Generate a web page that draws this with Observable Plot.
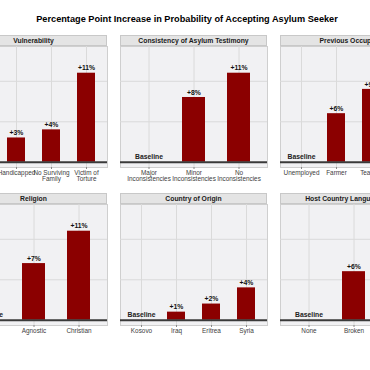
<!DOCTYPE html>
<html><head><meta charset="utf-8">
<script src="https://cdn.jsdelivr.net/npm/d3@7"></script>
<script src="https://cdn.jsdelivr.net/npm/@observablehq/plot@0.6"></script>
<style>
body{margin:0;background:#fff;}
#fig{position:relative;width:370px;height:370px;overflow:hidden;font-family:"Liberation Sans",Arial,Helvetica,sans-serif;}
.title{position:absolute;left:0;width:374px;top:14px;text-align:center;font-weight:bold;font-size:9.2px;color:#000;white-space:nowrap;}
.strip{position:absolute;height:11px;background:#e4e4e4;border:1px solid #c8c8c8;box-sizing:border-box;font-weight:bold;font-size:6.8px;text-align:center;line-height:9px;color:#1a1a1a;white-space:nowrap;overflow:visible;}
.panel{position:absolute;}
</style></head>
<body>
<div id="fig"><div class="title">Percentage Point Increase in Probability of Accepting Asylum Seeker</div></div>
<script>
const facetTitles = ["Vulnerability","Consistency of Asylum Testimony","Previous Occupation","Religion","Country of Origin","Host Country Language Skills"];
const vulnerabilityLevels = ["Not\nVulnerable","Handicapped","No Surviving\nFamily","Victim of\nTorture"];
const vulnerabilityValues = [0,3,4,11];
const consistencyLevels = ["Major\nInconsistencies","Minor\nInconsistencies","No\nInconsistencies"];
const consistencyValues = [0,8,11];
const occupationLevels = ["Unemployed","Farmer","Teacher","Doctor"];
const occupationValues = [0,6,9,13];
const religionLevels = ["Muslim","Agnostic","Christian"];
const religionValues = [0,7,11];
const countryLevels = ["Kosovo","Iraq","Eritrea","Syria"];
const countryValues = [0,1,2,4];
const languageLevels = ["None","Broken","Fluent"];
const languageValues = [0,6,12];
const yGridTicks = [5,10];

const panels = [
  [vulnerabilityLevels, vulnerabilityValues],
  [consistencyLevels, consistencyValues],
  [occupationLevels, occupationValues],
  [religionLevels, religionValues],
  [countryLevels, countryValues],
  [languageLevels, languageValues]
];

const colX = [-40, 120, 280];
const rowTop = [46, 204];
const panelW = 147, plotH = 121, bottomM = 30;
const fig = document.getElementById("fig");

panels.forEach(([levels, values], i) => {
  const col = i % 3, row = Math.floor(i / 3);
  const data = levels.map((l, j) => ({level: l, value: values[j]}));
  const chart = Plot.plot({
    width: panelW, height: plotH + bottomM,
    marginLeft: 0, marginRight: 0, marginTop: 0, marginBottom: bottomM,
    style: {overflow: "visible", background: "transparent", fontFamily: '"Liberation Sans",Arial,sans-serif', fontSize: "6.4px"},
    x: {domain: levels, paddingInner: 0.5, paddingOuter: 0.35, label: null},
    y: {domain: [-0.65, 14.3], axis: null},
    marks: [
      Plot.frame({fill: "#f1f1f3", stroke: "#cfcfcf"}),
      Plot.gridX({stroke: "#dadada", strokeOpacity: 1}),
      Plot.gridY(yGridTicks, {stroke: "#dadada", strokeOpacity: 1}),
      Plot.barY(data.filter(d => d.value > 0), {x: "level", y: "value", fill: "#8b0000"}),
      Plot.ruleY([0], {stroke: "#3a3a3a", strokeWidth: 2}),
      Plot.text(data.filter(d => d.value > 0), {x: "level", y: "value", text: d => `+${d.value}%`, dy: -5, fontWeight: "bold", fontSize: 6.8, fill: "#111"}),
      Plot.text(data.filter(d => d.value === 0), {x: "level", y: 0, text: () => "Baseline", dy: -5, fontWeight: "bold", fontSize: 6.8, fill: "#222"}),
      Plot.axisX({tickSize: 2, tickPadding: 1.5, stroke: "#888", fill: "#404040", label: null, lineHeight: 0.95})
    ]
  });
  chart.classList.add("panel");
  chart.style.left = colX[col] + "px";
  chart.style.top = rowTop[row] + "px";
  fig.appendChild(chart);
  const strip = document.createElement("div");
  strip.className = "strip";
  strip.style.left = colX[col] + "px";
  strip.style.top = (rowTop[row] - 11) + "px";
  strip.style.width = panelW + "px";
  strip.textContent = facetTitles[i];
  fig.appendChild(strip);
});
</script>
</body></html>
